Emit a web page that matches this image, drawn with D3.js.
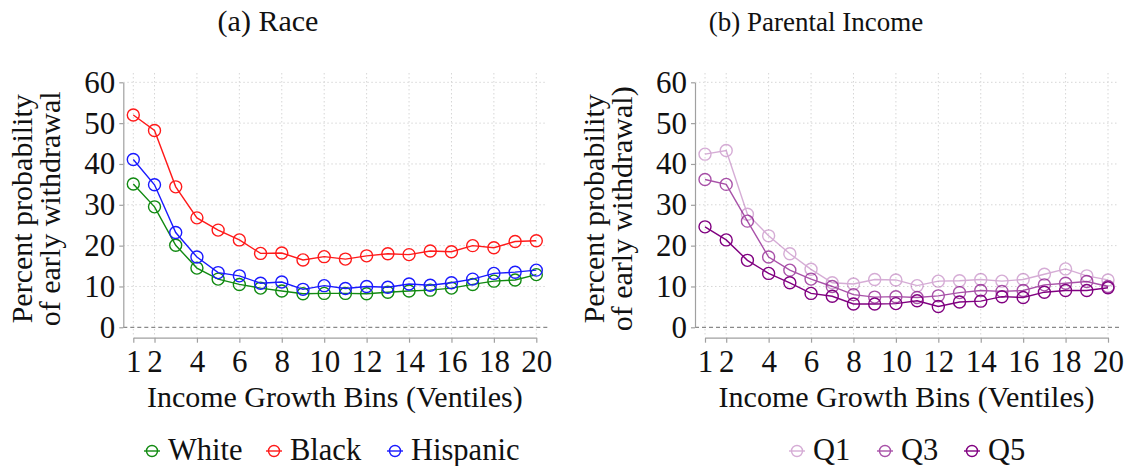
<!DOCTYPE html>
<html lang="en">
<head>
  <meta charset="UTF-8">
  <script src="https://d3js.org/d3.v7.min.js"></script>
  <title>Early withdrawal by income growth</title>
  <style>
    body { margin: 0; background: white; }
    .axis path, .axis line { stroke: #a0a0a0; stroke-width: 1.2; }
    .grid { stroke: #d6d6d6; stroke-width: 1; stroke-dasharray: 1.5,2.5; }
  </style>
</head>
<body>
  <div id="chart"></div>
  <script>
    // bins (ventiles) and ticks
    const bins = [1, 2, 3, 4, 5, 6, 7, 8, 9, 10, 11, 12, 13, 14, 15, 16, 17, 18, 19, 20];
    const xTicks = [1, 2, 4, 6, 8, 10, 12, 14, 16, 18, 20];
    const yTicks = [0, 10, 20, 30, 40, 50, 60];

    // panel (a) race
    const white = [35.1, 29.5, 20.1, 14.5, 11.8, 10.5, 9.6, 8.9, 8.2, 8.3, 8.3, 8.2, 8.6, 8.9, 9.1, 9.6, 10.5, 11.3, 11.6, 12.9];
    const black = [52.0, 48.2, 34.4, 26.8, 23.8, 21.4, 18.1, 18.2, 16.5, 17.3, 16.7, 17.5, 18.0, 17.8, 18.7, 18.5, 20.0, 19.5, 21.0, 21.2];
    const hispanic = [41.1, 34.9, 23.2, 17.2, 13.4, 12.6, 10.8, 11.1, 9.3, 10.2, 9.5, 10.0, 9.8, 10.6, 10.3, 10.9, 11.8, 13.2, 13.5, 14.0];

    // panel (b) parental income quintiles
    const q1 = [42.4, 43.3, 27.7, 22.4, 18.0, 14.2, 10.9, 10.6, 11.7, 11.6, 10.2, 11.3, 11.4, 11.7, 11.3, 11.7, 13.0, 14.3, 12.6, 11.6];
    const q3 = [36.2, 35.0, 26.0, 17.2, 14.0, 11.8, 10.0, 8.0, 7.4, 7.5, 7.3, 7.7, 8.5, 9.0, 8.8, 9.0, 10.4, 10.8, 11.2, 10.0];
    const q5 = [24.6, 21.4, 16.4, 13.2, 10.9, 8.3, 7.6, 5.7, 5.7, 5.8, 6.5, 5.1, 6.2, 6.4, 7.5, 7.3, 8.6, 9.0, 9.0, 9.7];

    const W = 1125, H = 466;
    const svg = d3.select("#chart").append("svg")
      .attr("width", W).attr("height", H);

    function drawPanel(p) {
      const g = svg.append("g");
      const x = d3.scaleLinear().domain([1, 20]).range([p.x0, p.x0 + 403]);
      const y = d3.scaleLinear().domain([0, 60]).range([327.3, 82.3]);
      const axisX = p.x0 - 10;
      const right = p.x0 + 414;

      // grid
      g.selectAll(".gy").data(yTicks.slice(1)).enter().append("line")
        .attr("class", "grid")
        .attr("x1", axisX).attr("x2", right)
        .attr("y1", d => y(d)).attr("y2", d => y(d));
      g.selectAll(".gx").data(xTicks).enter().append("line")
        .attr("class", "grid")
        .attr("x1", d => x(d)).attr("x2", d => x(d))
        .attr("y1", 73).attr("y2", 336);

      // zero line
      g.append("line")
        .attr("x1", axisX).attr("x2", right)
        .attr("y1", y(0)).attr("y2", y(0))
        .attr("stroke", "#8a8a8a").attr("stroke-width", 1.2)
        .attr("stroke-dasharray", "4,3");

      g.append("g").attr("class", "axis")
        .attr("transform", `translate(${axisX},0)`)
        .call(d3.axisLeft(y).tickValues(yTicks).tickSize(4).tickSizeOuter(0).tickPadding(4))
        .selectAll("text").style("font-size", "31px");

      g.append("g").attr("class", "axis")
        .attr("transform", "translate(0,337.7)")
        .call(d3.axisBottom(x).tickValues(xTicks).tickSize(5).tickSizeOuter(0).tickPadding(7))
        .selectAll("text").style("font-size", "31px");

      g.selectAll(".axis").attr("font-family", "Liberation Serif");
      g.selectAll(".axis path.domain").attr("fill", "none");

      // titles
      g.append("text")
        .attr("x", p.titleX).attr("y", 31)
        .attr("text-anchor", "middle")
        .style("font-size", p.titleSize)
        .text(p.title);

      g.append("text")
        .attr("x", (x(1) + x(20)) / 2).attr("y", 407)
        .attr("text-anchor", "middle")
        .style("font-size", "30px")
        .text("Income Growth Bins (Ventiles)");

      const yl = g.append("text")
        .attr("transform", `translate(${p.x0 - 101},${(y(0) + y(60)) / 2 + 4}) rotate(-90)`)
        .attr("text-anchor", "middle")
        .style("font-size", "30px");
      yl.append("tspan").attr("x", 0).attr("y", 0).text("Percent probability");
      yl.append("tspan").attr("x", 0).attr("y", 28).text(p.ylab2);

      const line = d3.line().x((d, i) => x(bins[i])).y(d => y(d));

      p.series.forEach(s => {
        const sg = g.append("g").attr("opacity", s.opacity);
        sg.append("path")
          .datum(s.values)
          .attr("d", line)
          .attr("fill", "none")
          .attr("stroke", s.color)
          .attr("stroke-width", 1.4);
        sg.selectAll("circle").data(s.values).enter().append("circle")
          .attr("cx", (d, i) => x(bins[i]))
          .attr("cy", d => y(d))
          .attr("r", 6)
          .attr("fill", "none")
          .attr("stroke", s.color)
          .attr("stroke-width", 1.4);
      });

      // legend
      const lg = g.append("g");
      p.series.forEach(s => {
        const item = lg.append("g").attr("opacity", s.opacity);
        item.append("line")
          .attr("x1", s.lx - 8).attr("x2", s.lx + 8)
          .attr("y1", 451).attr("y2", 451)
          .attr("stroke", s.color).attr("stroke-width", 1.4);
        item.append("circle")
          .attr("cx", s.lx).attr("cy", 451).attr("r", 5.5)
          .attr("fill", "none").attr("stroke", s.color).attr("stroke-width", 1.4);
        lg.append("text")
          .attr("x", s.lx + 16).attr("y", 460)
          .style("font-size", "30.5px")
          .text(s.name);
      });
    }

    drawPanel({
      x0: 133.3, titleX: 268, title: "(a) Race", titleSize: "30px", ylab2: "of early withdrawal",
      series: [
        { name: "White", values: white, color: "#118a11", opacity: 1, lx: 152 },
        { name: "Black", values: black, color: "#ff1a1a", opacity: 1, lx: 274 },
        { name: "Hispanic", values: hispanic, color: "#1a1aff", opacity: 1, lx: 395 }
      ]
    });

    drawPanel({
      x0: 705, titleX: 816, title: "(b) Parental Income", titleSize: "27px", ylab2: "of early withdrawal)",
      series: [
        { name: "Q1", values: q1, color: "#800080", opacity: 0.32, lx: 797 },
        { name: "Q3", values: q3, color: "#800080", opacity: 0.68, lx: 885 },
        { name: "Q5", values: q5, color: "#800080", opacity: 1, lx: 972 }
      ]
    });

    // serif type everywhere, one family name only
    svg.selectAll("text")
      .style("font-family", "Liberation Serif")
      .style("fill", "#111");
  </script>
</body>
</html>
